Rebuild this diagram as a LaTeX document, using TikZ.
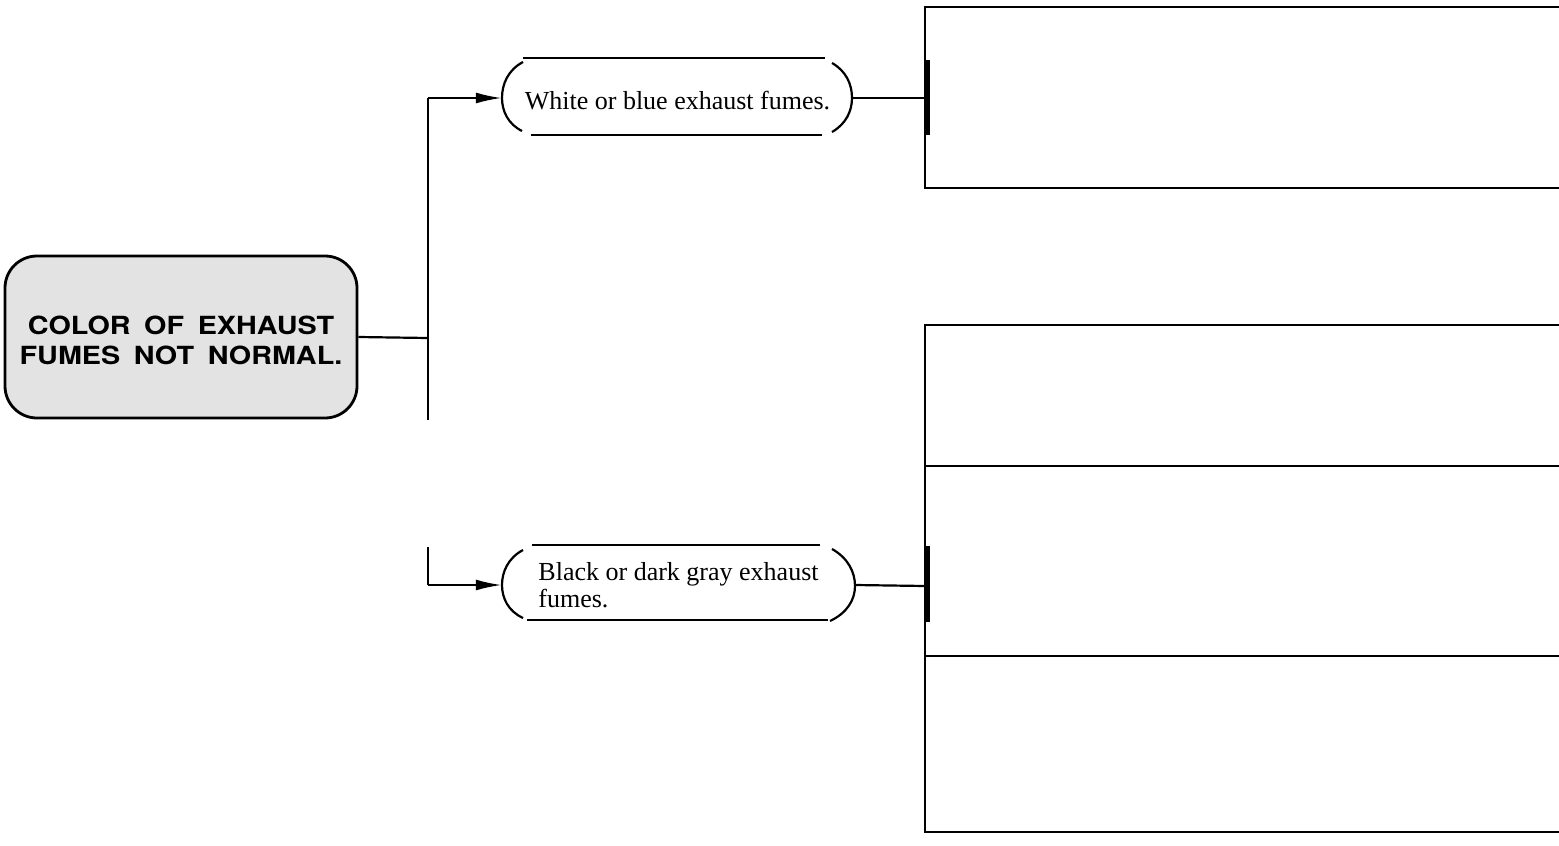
\documentclass[tikz,border=0pt]{standalone}
\usepackage{fontspec}
\setmainfont{Liberation Serif}
\newfontfamily\headfont[WordSpace=1.7,FakeStretch=1.15]{TeX Gyre Heros}
\usetikzlibrary{arrows.meta}
\begin{document}
\begin{tikzpicture}[x=1pt,y=-1pt,
  ln/.style={line width=2.2pt,black},
  tick/.style={line width=3.2pt,black},
  arr/.style={ln,-{Latex[length=26pt,width=11pt]}},
  startbox/.style={draw,line width=2.8pt,rounded corners=32pt,fill=black!11,
    minimum width=352pt,minimum height=162pt,align=center,inner sep=0pt,
    font=\headfont\bfseries\fontsize{25}{30}\selectfont},
  oval/.style={inner sep=0pt,align=left,font=\fontsize{26}{27}\selectfont}]
\useasboundingbox (0,0) rectangle (1559,846);

% start node
\node[startbox] (main) at (181,337) {\rule{0pt}{26pt}COLOR OF EXHAUST\\FUMES NOT NORMAL.};

% condition nodes
\node[oval,minimum width=351pt,minimum height=77pt] (ov1) at (677.5,98) {\rule{0pt}{24pt}White or blue exhaust fumes.};
\node[oval,minimum width=353pt,minimum height=75pt] (ov2) at (678.5,585) {Black or dark gray exhaust\\fumes.};

% oval outlines
\draw[ln] (523,58) -- (825,58);
\draw[ln] (531,135) -- (822,135);
\draw[ln] (523,62) .. controls (508,70) and (502,84) .. (502,98) .. controls (502,111) and (508,124) .. (522,131);
\draw[ln] (832,63) .. controls (846,71) and (852,84) .. (852,98) .. controls (852,111) and (846,124) .. (832,132);
\draw[ln] (532,545) -- (820,545);
\draw[ln] (527,620) -- (828,620);
\draw[ln] (523,550) .. controls (508,558) and (502,572) .. (502,585) .. controls (502,598) and (508,611) .. (523,618);
\draw[ln] (832,549) .. controls (848,558) and (855,572) .. (855,586) .. controls (855,600) and (847,613) .. (830,621);

% right-hand boxes (open at right)
\draw[ln] (1559,7) -- (925,7) -- (925,188) -- (1559,188);
\draw[ln] (1559,325) -- (925,325) -- (925,832) -- (1559,832);
\draw[ln] (925,466) -- (1559,466);
\draw[ln] (925,656) -- (1559,656);
\draw[tick] (928,60) -- (928,135);
\draw[tick] (928,546) -- (928,622);

% junctions
\coordinate (j) at (428,338);
\coordinate (jt) at (428,98);
\coordinate (jbr1) at (428,420);
\coordinate (jbr2) at (428,547);
\coordinate (jb) at (428,585);
\coordinate (r1) at (925,98);
\coordinate (r2) at (925,586);

% connectors
\draw[ln] (main.east) -- (j);
\draw[ln] (jbr1) -- (jt);
\draw[arr] (jt) -- (ov1.west);
\draw[ln] (jbr2) -- (jb);
\draw[arr] (jb) -- (ov2.west);
\draw[ln] (ov1.east) -- (r1);
\draw[ln] (ov2.east) -- (r2);
\end{tikzpicture}
\end{document}
